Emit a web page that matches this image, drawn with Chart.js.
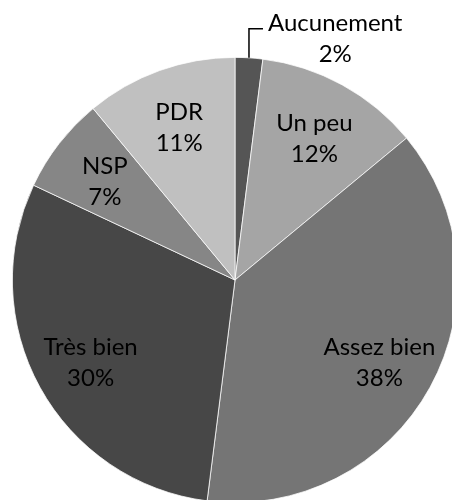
<!DOCTYPE html>
<html>
<head>
<meta charset="utf-8">
<script src="https://cdn.jsdelivr.net/npm/chart.js@4"></script>
<style>
  html, body { margin: 0; padding: 0; background: #fff; overflow: hidden; }
  #wrap { position: absolute; left: 0; top: 0; width: 470px; height: 510px; }
</style>
</head>
<body>
<div id="wrap"><canvas id="chartCanvas" width="470" height="510"></canvas></div>
<script>
// données du camembert (dans le sens horaire depuis midi)
const categories = ["Aucunement", "Un peu", "Assez bien", "Très bien", "NSP", "PDR"];
const valeurs = [2, 12, 38, 30, 7, 11];
const couleurs = ["#555555", "#a5a5a5", "#757575", "#474747", "#868686", "#c0c0c0"];
const etiquettesDehors = ["Aucunement"]; // étiquette placée à l'extérieur avec un trait

const police = "24px Lato, 'Open Sans', sans-serif";
const interligne = 31;

// petit plugin pour dessiner les étiquettes "Nom / xx%"
const etiquettes = {
  id: 'etiquettes',
  afterDatasetsDraw(chart) {
    const ctx = chart.ctx;
    const meta = chart.getDatasetMeta(0);
    const total = valeurs.reduce((a, b) => a + b, 0);
    ctx.save();
    ctx.font = police;
    ctx.fillStyle = "#000";
    ctx.textBaseline = "middle";
    ctx.textAlign = "center";
    meta.data.forEach((arc, i) => {
      const p = arc.getProps(['x', 'y', 'startAngle', 'endAngle', 'outerRadius'], true);
      const milieu = (p.startAngle + p.endAngle) / 2;
      const lignes = [categories[i], Math.round(valeurs[i] / total * 100) + "%"];
      if (etiquettesDehors.includes(categories[i])) {
        // trait de rappel : vers le haut puis vers la droite
        const x0 = p.x + Math.cos(milieu) * p.outerRadius;
        const y0 = p.y + Math.sin(milieu) * p.outerRadius;
        const y1 = y0 - 29;
        const x1 = x0 + 14;
        ctx.strokeStyle = "#000";
        ctx.lineWidth = 1.5;
        ctx.beginPath();
        ctx.moveTo(x0, y0);
        ctx.lineTo(x0, y1);
        ctx.lineTo(x1, y1);
        ctx.stroke();
        const larg = Math.max(...lignes.map(l => ctx.measureText(l).width));
        const cx = x1 + 5 + larg / 2;
        const cy = y1 - 6;
        lignes.forEach((l, k) => ctx.fillText(l, cx, cy + k * interligne));
      } else {
        const r = p.outerRadius * 0.74;
        const cx = p.x + Math.cos(milieu) * r;
        const cy = p.y + Math.sin(milieu) * r + 3;
        lignes.forEach((l, k) => ctx.fillText(l, cx, cy + (k - 0.5) * interligne));
      }
    });
    ctx.restore();
  }
};

const ctx = document.getElementById('chartCanvas').getContext('2d');
new Chart(ctx, {
  type: 'pie',
  data: {
    labels: categories,
    datasets: [{
      data: valeurs,
      backgroundColor: couleurs,
      borderColor: "#ffffff",
      borderWidth: 0.75
    }]
  },
  options: {
    responsive: false,
    animation: false,
    layout: { padding: { left: 12, top: 57, right: 12, bottom: 7 } },
    plugins: {
      legend: { display: false },
      tooltip: { enabled: false }
    }
  },
  plugins: [etiquettes]
});
</script>
</body>
</html>
